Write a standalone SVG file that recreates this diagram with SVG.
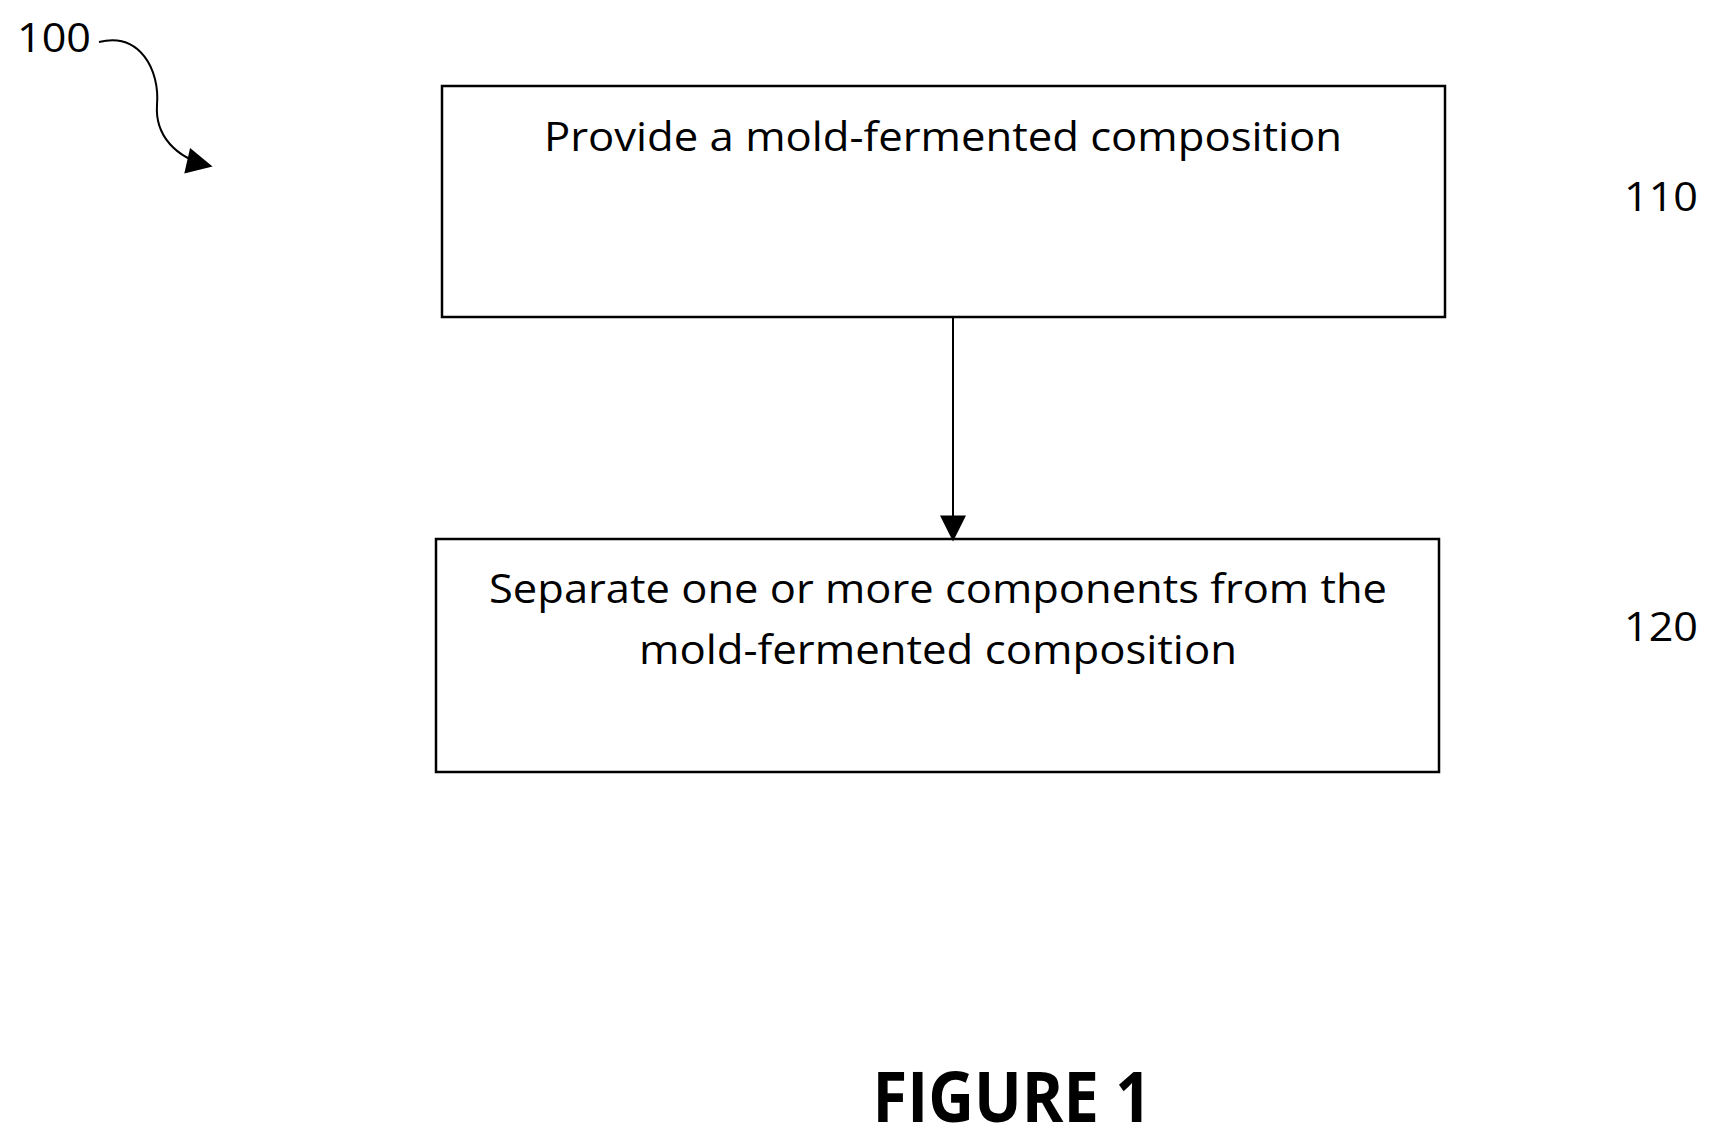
<svg xmlns="http://www.w3.org/2000/svg" width="1718" height="1143" viewBox="0 0 1718 1143">
<style>
.box{fill:#fff;stroke:#000;stroke-width:2.5}
.t{font-family:"Open Sans","Liberation Sans",sans-serif;font-size:40px;fill:#000}
.c{text-anchor:middle}
</style>
<defs>
<marker id="ah2" viewBox="0 0 10 10" refX="9" refY="5" markerWidth="28" markerHeight="26" orient="auto" markerUnits="userSpaceOnUse"><path d="M0,0 L10,5 L0,10 z" fill="#000"/></marker>
</defs>
<rect width="1718" height="1143" fill="#fff"/>
<g id="n110">
<rect class="box" x="442" y="86" width="1003" height="231"/>
<text class="t c" x="943" y="151" textLength="798" lengthAdjust="spacingAndGlyphs">Provide a mold-fermented composition</text>
<text class="t" x="1624" y="211" textLength="74" lengthAdjust="spacingAndGlyphs">110</text>
</g>
<g id="n120">
<rect class="box" x="436" y="539" width="1003" height="233"/>
<text class="t c" x="938" y="603" textLength="898" lengthAdjust="spacingAndGlyphs">Separate one or more components from the</text>
<text class="t c" x="938" y="664" textLength="598" lengthAdjust="spacingAndGlyphs">mold-fermented composition</text>
<text class="t" x="1624" y="641" textLength="74" lengthAdjust="spacingAndGlyphs">120</text>
</g>
<g id="n100">
<text class="t" x="17" y="52" textLength="74" lengthAdjust="spacingAndGlyphs">100</text>
</g>
<g id="connectors" fill="none" stroke="#000" stroke-width="2">
<line x1="953" y1="317" x2="953" y2="539" marker-end="url(#ah2)"/>
<path d="M99,42 C140,32 160,70 157,105 C155,135 175,158 210,166" marker-end="url(#ah2)"/>
</g>
<text x="1012" y="1122" text-anchor="middle" font-family="Open Sans, Liberation Sans, sans-serif" font-weight="bold" font-size="70" textLength="279" lengthAdjust="spacingAndGlyphs">FIGURE 1</text>
</svg>
